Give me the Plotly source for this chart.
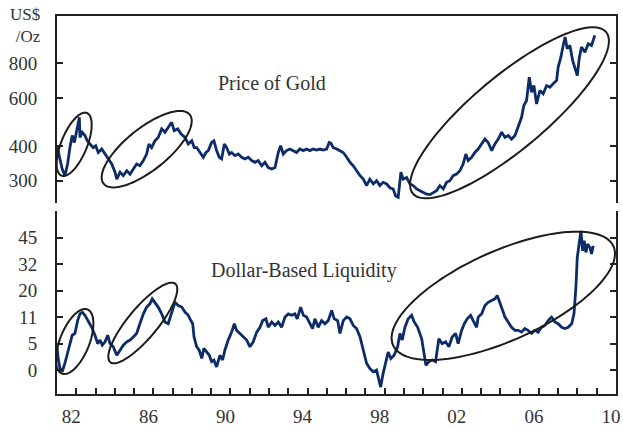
import numpy as np
import plotly.graph_objects as go

# ---------------- data ----------------
gold_years = [1981.00, 1981.16, 1981.27, 1981.41, 1981.55, 1981.67, 1981.79, 1981.90, 1982.02, 1982.16,
              1982.19, 1982.31, 1982.45, 1982.57, 1982.71, 1982.88, 1983.01, 1983.14, 1983.32, 1983.49,
              1983.66, 1983.84, 1984.01, 1984.10, 1984.27, 1984.44, 1984.62, 1984.79, 1984.96, 1985.13,
              1985.30, 1985.48, 1985.65, 1985.77, 1985.91, 1986.08, 1986.25, 1986.43, 1986.60, 1986.77,
              1986.95, 1987.08, 1987.26, 1987.43, 1987.64, 1987.81, 1987.99, 1988.12, 1988.25, 1988.42,
              1988.59, 1988.73, 1988.85, 1989.02, 1989.14, 1989.28, 1989.42, 1989.54, 1989.68, 1989.80,
              1989.94, 1990.06, 1990.23, 1990.40, 1990.58, 1990.75, 1990.92, 1991.10, 1991.27, 1991.44,
              1991.62, 1991.79, 1991.96, 1992.14, 1992.31, 1992.48, 1992.60, 1992.74, 1992.91, 1993.08,
              1993.26, 1993.43, 1993.60, 1993.78, 1993.95, 1994.12, 1994.29, 1994.47, 1994.64, 1994.81,
              1994.99, 1995.12, 1995.21, 1995.33, 1995.51, 1995.68, 1995.85, 1996.03, 1996.20, 1996.37,
              1996.54, 1996.72, 1996.89, 1997.06, 1997.23, 1997.41, 1997.58, 1997.75, 1997.92, 1998.10,
              1998.27, 1998.44, 1998.57, 1998.70, 1998.84, 1998.96, 1999.14, 1999.31, 1999.48, 1999.66,
              1999.83, 2000.00, 2000.18, 2000.35, 2000.52, 2000.69, 2000.86, 2001.04, 2001.21, 2001.38,
              2001.55, 2001.73, 2001.90, 2002.07, 2002.21, 2002.33, 2002.51, 2002.68, 2002.85, 2003.03,
              2003.20, 2003.37, 2003.55, 2003.72, 2003.89, 2004.07, 2004.24, 2004.41, 2004.58, 2004.76,
              2004.93, 2005.10, 2005.22, 2005.36, 2005.50, 2005.62, 2005.74, 2005.88, 2006.05, 2006.22,
              2006.40, 2006.57, 2006.74, 2006.92, 2007.00, 2007.14, 2007.26, 2007.36, 2007.47, 2007.61,
              2007.75, 2007.87, 2007.99, 2008.09, 2008.21, 2008.39, 2008.56, 2008.73, 2008.90]
gold_price = [402, 355, 331, 313, 345, 396, 438, 413, 463, 510,
              431, 450, 438, 419, 408, 396, 402, 380, 391, 375,
              360, 345, 322, 304, 322, 313, 326, 317, 331, 345,
              340, 355, 375, 408, 396, 419, 431, 463, 450, 469,
              489, 456, 463, 444, 431, 408, 419, 396, 396, 380,
              365, 380, 386, 413, 419, 386, 365, 360, 408, 396,
              375, 380, 370, 375, 365, 360, 365, 355, 350, 355,
              340, 350, 335, 331, 335, 380, 402, 375, 386, 391,
              386, 380, 391, 386, 391, 386, 391, 388, 391, 388,
              391, 413, 411, 396, 391, 386, 380, 365, 350, 340,
              326, 313, 304, 288, 304, 292, 300, 288, 296, 292,
              283, 280, 264, 261, 322, 304, 308, 292, 288, 280,
              276, 272, 268, 267, 272, 276, 288, 280, 296, 300,
              313, 317, 326, 345, 375, 355, 365, 380, 391, 408,
              425, 413, 386, 408, 425, 450, 431, 438, 425, 438,
              469, 510, 563, 587, 713, 629, 665, 570, 638, 621,
              665, 656, 675, 694, 776, 843, 930, 998, 905, 930,
              820, 776, 723, 832, 918, 879, 944, 930, 1012]

liq_years = [1981.00, 1981.07, 1981.16, 1981.27, 1981.41, 1981.55, 1981.67, 1981.79, 1981.93, 1982.07,
             1982.19, 1982.31, 1982.45, 1982.62, 1982.80, 1982.97, 1983.11, 1983.23, 1983.35, 1983.49,
             1983.63, 1983.75, 1983.92, 1984.10, 1984.27, 1984.44, 1984.62, 1984.79, 1984.96, 1985.13,
             1985.30, 1985.48, 1985.65, 1985.82, 1985.94, 1986.08, 1986.25, 1986.43, 1986.60, 1986.77,
             1986.95, 1987.12, 1987.29, 1987.47, 1987.64, 1987.81, 1987.90, 1988.04, 1988.11, 1988.25,
             1988.38, 1988.51, 1988.62, 1988.76, 1988.90, 1989.02, 1989.14, 1989.28, 1989.45, 1989.59,
             1989.71, 1989.88, 1990.06, 1990.20, 1990.32, 1990.49, 1990.66, 1990.84, 1991.01, 1991.18,
             1991.36, 1991.53, 1991.67, 1991.84, 1991.96, 1992.14, 1992.31, 1992.48, 1992.65, 1992.83,
             1993.00, 1993.17, 1993.34, 1993.46, 1993.64, 1993.78, 1993.95, 1994.12, 1994.26, 1994.38,
             1994.55, 1994.73, 1994.90, 1995.07, 1995.25, 1995.38, 1995.56, 1995.68, 1995.85, 1996.03,
             1996.20, 1996.37, 1996.54, 1996.72, 1996.89, 1997.06, 1997.23, 1997.41, 1997.58, 1997.70,
             1997.79, 1997.92, 1998.05, 1998.18, 1998.32, 1998.49, 1998.67, 1998.79, 1998.91, 1999.05,
             1999.22, 1999.40, 1999.53, 1999.71, 1999.92, 2000.05, 2000.14, 2000.29, 2000.47, 2000.64,
             2000.81, 2000.98, 2001.16, 2001.33, 2001.50, 2001.68, 2001.81, 2001.99, 2002.13, 2002.28,
             2002.46, 2002.59, 2002.77, 2002.85, 2003.03, 2003.20, 2003.37, 2003.55, 2003.72, 2003.84,
             2003.98, 2004.12, 2004.24, 2004.41, 2004.58, 2004.76, 2004.93, 2005.10, 2005.27, 2005.44,
             2005.62, 2005.79, 2005.96, 2006.14, 2006.31, 2006.48, 2006.66, 2006.83, 2007.00, 2007.18,
             2007.35, 2007.52, 2007.70, 2007.82, 2007.92, 2007.99, 2008.09, 2008.18, 2008.27, 2008.35,
             2008.44, 2008.53, 2008.65, 2008.73, 2008.82]
liq_values = [4.4, 1.9, 0.3, -0.3, 1.3, 3.4, 5.0, 6.9, 7.3, 10.2,
              12.1, 12.7, 11.6, 10.2, 8.7, 6.9, 5.0, 5.8, 4.7, 5.4,
              6.9, 5.0, 4.4, 2.8, 3.75, 4.7, 5.4, 5.8, 6.5, 7.3,
              9.5, 12.1, 14.4, 15.5, 17.2, 16.0, 14.4, 12.1, 9.9, 9.5,
              12.1, 16.0, 14.9, 14.4, 12.7, 11.6, 10.6, 9.5, 6.5, 4.4,
              3.75, 2.2, 4.1, 3.4, 2.8, 1.6, 1.9, 0.6, 2.8, 1.9,
              3.75, 5.8, 7.6, 9.5, 8.0, 7.3, 6.5, 5.8, 4.4, 5.4,
              7.6, 8.7, 10.2, 10.6, 8.7, 9.9, 9.1, 9.9, 8.7, 11.0,
              12.1, 11.6, 12.1, 10.6, 14.4, 11.6, 11.0, 9.5, 8.4, 10.6,
              8.7, 10.2, 9.5, 10.2, 13.25, 10.6, 10.2, 7.3, 10.2, 11.0,
              10.6, 9.1, 8.4, 6.5, 3.75, 1.3, 0.3, -0.3, 0.0, -1.6,
              -3.2, -0.6, 1.6, 3.4, 2.2, 2.8, 4.4, 7.3, 5.8, 8.7,
              10.6, 11.6, 9.9, 8.7, 6.1, 3.1, 0.9, 1.6, 1.9, 1.6,
              6.1, 5.0, 5.4, 4.4, 6.5, 7.3, 5.0, 8.0, 9.5, 10.6,
              11.6, 10.2, 8.7, 11.0, 12.1, 14.9, 16.0, 16.6, 17.2, 18.3,
              16.0, 13.25, 11.0, 9.9, 8.7, 8.0, 8.0, 7.6, 8.4, 8.0,
              7.3, 8.0, 7.6, 8.7, 9.1, 10.2, 11.0, 9.9, 9.5, 8.7,
              8.4, 8.7, 9.5, 12.1, 21.5, 35.2, 41.8, 48.2, 38.5, 43.4,
              37.7, 41.8, 40.1, 36.9, 40.9]

gold_tick_vals = [250, 300, 400, 600, 800]
gold_tick_text = ["", "300", "400", "600", "800"]
liq_tick_labels = [0, 5, 11, 20, 32, 45]
year_ticks = list(range(1982, 2011))

# ---------------- styling / layout ----------------
W, H = 623, 431
ML, MT, MR, MB = 57, 16, 7, 37
FONT = "Liberation Serif"
TXT = "#333333"
AX = "#222222"
LINE = "#0c2c69"

plot_w = W - ML - MR
plot_h = H - MT - MB


def px_to_paper(px, py):
    """page pixel position -> paper coordinates"""
    return (px - ML) / plot_w, (H - MB - py) / plot_h


top_dom = [px_to_paper(0, 203)[1], 1.0]
bot_dom = [0.0, px_to_paper(0, 211)[1]]
xr = [1981.0, 2010.0]

# liquidity axis is a stretched scale: labelled values sit at even steps
knots_val = [-5] + liq_tick_labels + [58]
knots_pos = [-1, 0, 1, 2, 3, 4, 5, 6]
liq_pos = np.interp(liq_values, knots_val, knots_pos)

fig = go.Figure()
fig.add_trace(go.Scatter(x=gold_years, y=gold_price, mode="lines",
                         line=dict(color=LINE, width=2.8), xaxis="x", yaxis="y",
                         showlegend=False, hoverinfo="skip"))
fig.add_trace(go.Scatter(x=liq_years, y=liq_pos, mode="lines",
                         line=dict(color=LINE, width=2.8), xaxis="x2", yaxis="y2",
                         showlegend=False, hoverinfo="skip"))

tf = dict(family=FONT, size=19, color=TXT)
fig.update_layout(
    width=W, height=H,
    margin=dict(l=ML, r=MR, t=MT, b=MB, autoexpand=False),
    paper_bgcolor="white", plot_bgcolor="white",
    font=dict(family=FONT, size=19, color=TXT),
    xaxis=dict(domain=[0, 1], anchor="y", side="top", range=xr, showline=True,
               linecolor=AX, linewidth=2, ticks="", showticklabels=False,
               showgrid=False, zeroline=False, matches="x2", automargin=False),
    xaxis2=dict(domain=[0, 1], anchor="y2", range=xr, showline=True, linecolor=AX,
                linewidth=2, ticks="inside", ticklen=6, tickwidth=1.5, tickcolor=AX,
                tickvals=year_ticks,
                ticktext=[(str(y)[2:] if (y - 1982) % 4 == 0 else "") for y in year_ticks],
                ticklabelshift=-5, ticklabelstandoff=4, tickfont=tf,
                ticklabeloverflow="allow",
                showgrid=False, zeroline=False, automargin=False),
    yaxis=dict(domain=top_dom, anchor="x", type="log",
               range=[np.log10(249), np.log10(1190)], showline=True, linecolor=AX,
               linewidth=2, mirror="ticks", ticks="inside", ticklen=6, tickwidth=1.5,
               tickcolor=AX, tickvals=gold_tick_vals, ticktext=gold_tick_text,
               ticklabelstandoff=14, tickfont=tf,
               showgrid=False, zeroline=False, automargin=False),
    yaxis2=dict(domain=bot_dom, anchor="x2", range=[-0.9, 6.0], showline=True,
                linecolor=AX, linewidth=2, mirror="ticks", ticks="inside", ticklen=6,
                tickwidth=1.5, tickcolor=AX, tickvals=list(range(7)),
                ticktext=[str(v) for v in liq_tick_labels] + [""],
                ticklabelstandoff=14, tickfont=tf,
                showgrid=False, zeroline=False, automargin=False),
)


def add_text(text, px, py, xanchor="center", size=20):
    x, y = px_to_paper(px, py)
    fig.add_annotation(text=text, x=x, y=y, xref="paper", yref="paper",
                       xanchor=xanchor, yanchor="middle", showarrow=False, align="right",
                       font=dict(family=FONT, size=size, color=TXT))


add_text("Price of Gold", 272, 83)
add_text("Dollar-Based Liquidity", 303.5, 270)
add_text("US$<br>/Oz", 43, 25, xanchor="right", size=17)

# highlight ellipses (centre px, centre py, semi-major, semi-minor, tilt deg) in page pixels
ellipses = [
    (74.2, 144.3, 33.8, 12.9, 67.8),
    (146.7, 149.2, 55.2, 21.0, 38.7),
    (509.5, 112.8, 125.9, 36.7, 39.9),
    (74.7, 341.5, 34.5, 14.7, 68.3),
    (142.8, 323.0, 50.9, 14.9, 50.3),
    (503.3, 295.8, 120.8, 44.7, 24.2),
]
t = np.linspace(0, 2 * np.pi, 121)
for cx, cy, a, b, th in ellipses:
    r = np.deg2rad(th)
    ex = cx + a * np.cos(t) * np.cos(r) - b * np.sin(t) * np.sin(r)
    ey = cy - (a * np.cos(t) * np.sin(r) + b * np.sin(t) * np.cos(r))
    pts = [px_to_paper(x, y) for x, y in zip(ex, ey)]
    path = "M " + " L ".join(f"{x:.5f},{y:.5f}" for x, y in pts) + " Z"
    fig.add_shape(type="path", path=path, xref="paper", yref="paper",
                  line=dict(color="#1c1c1c", width=2))

# the page's default body margin would push the figure 8 px in; remove it
fig.write_html("out.html", config={"displayModeBar": False},
               post_script="document.body.style.margin='0';")
